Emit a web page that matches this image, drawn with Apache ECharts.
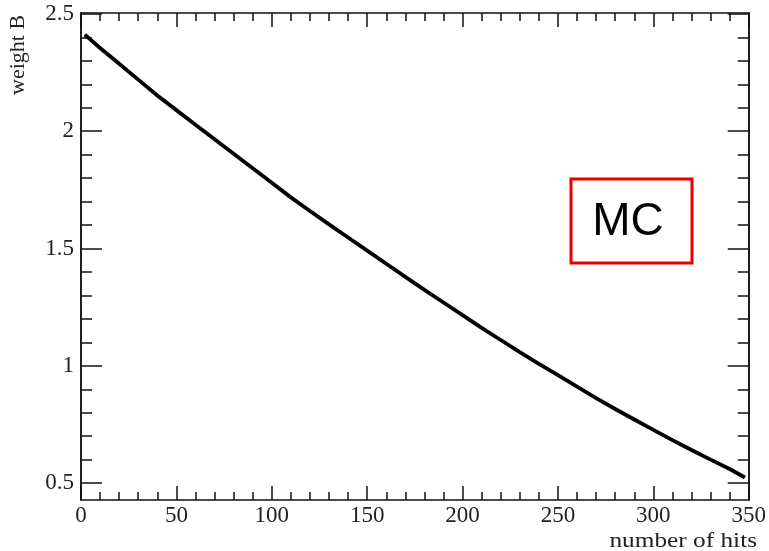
<!DOCTYPE html>
<html>
<head>
<meta charset="utf-8">
<script src="https://cdn.jsdelivr.net/npm/echarts@6/dist/echarts.min.js"></script>
<style>
  html, body { margin: 0; padding: 0; background: #fff; }
  #myChart { width: 769px; height: 551px; }
</style>
</head>
<body>
<div id="myChart"></div>
<script>
// number of hits (x) and weight B (y)
var hits = [2, 10, 20, 30, 40, 50, 60, 70, 80, 90, 100, 110, 120, 130, 140, 150, 160, 170, 180, 190,
  200, 210, 220, 230, 240, 250, 260, 270, 280, 290, 300, 310, 320, 330, 340, 348];
var weightB = [2.412, 2.355, 2.288, 2.220, 2.152, 2.090, 2.028, 1.966, 1.904, 1.842, 1.780, 1.718,
  1.660, 1.603, 1.547, 1.491, 1.435, 1.379, 1.324, 1.270, 1.216, 1.162, 1.110, 1.058, 1.008, 0.960,
  0.911, 0.862, 0.816, 0.771, 0.727, 0.683, 0.641, 0.600, 0.560, 0.524];
// tick labels
var yMajor = [0.5, 1, 1.5, 2, 2.5];
var yMinor = [0.6, 0.7, 0.8, 0.9, 1.1, 1.2, 1.3, 1.4, 1.6, 1.7, 1.8, 1.9, 2.1, 2.2, 2.3, 2.4];

var points = hits.map(function (h, i) { return [h, weightB[i]]; });

var serif = 'Liberation Serif';
var lineCol = '#111';

function xAx(pos, showLabel) {
  return {
    type: 'value', position: pos, min: 0, max: 350, interval: 50,
    axisLine: { show: true, onZero: false, lineStyle: { color: lineCol, width: 1.5 } },
    axisTick: { show: true, inside: true, length: 14, lineStyle: { color: lineCol, width: 1.5 } },
    minorTick: { show: true, splitNumber: 5, length: 8, lineStyle: { color: lineCol, width: 1.5 } },
    axisLabel: { show: showLabel, margin: 4, color: '#222', fontFamily: serif, fontSize: 23 },
    splitLine: { show: false }
  };
}

function yAx(pos, values, len, showLabel) {
  return {
    type: 'value', position: pos, min: 0.428, max: 2.504,
    axisLine: { show: true, onZero: false, lineStyle: { color: lineCol, width: 1.5 } },
    axisTick: { show: true, inside: true, length: len, customValues: values, lineStyle: { color: lineCol, width: 1.5 } },
    axisLabel: {
      show: showLabel, customValues: values, margin: 7, color: '#222', fontFamily: serif, fontSize: 23,
      formatter: function (v) { return String(v); }
    },
    splitLine: { show: false }
  };
}

var myChart = echarts.init(document.getElementById('myChart'));
myChart.setOption({
  animation: false,
  backgroundColor: '#fff',
  grid: { left: 81, right: 18, top: 13, bottom: 51 },
  xAxis: [xAx('bottom', true), xAx('top', false)],
  yAxis: [
    yAx('left', yMajor, 21, true),
    yAx('left', yMinor, 11, false),
    yAx('right', yMajor, 21, false),
    yAx('right', yMinor, 11, false)
  ],
  series: [{
    type: 'line',
    data: points,
    xAxisIndex: 0,
    yAxisIndex: 0,
    showSymbol: false,
    lineStyle: { color: '#000', width: 3.8 }
  }],
  graphic: [
    {
      type: 'text', x: 757, y: 541, scaleX: 1.15,
      style: {
        text: 'number of hits', fontSize: 22, fontFamily: serif, fill: '#222',
        align: 'right', verticalAlign: 'middle'
      }
    },
    {
      type: 'text', x: 7, y: 95, rotation: Math.PI / 2,
      style: {
        text: 'weight B', fontSize: 22, fontFamily: serif, fill: '#222',
        align: 'left', verticalAlign: 'top'
      }
    },
    {
      type: 'rect', shape: { x: 571, y: 179, width: 121, height: 84 },
      style: { fill: 'none', stroke: '#e80000', lineWidth: 3 }
    },
    {
      type: 'text', x: 628, y: 222,
      style: { text: 'MC', font: '46px "Liberation Sans", "Open Sans", sans-serif', fill: '#000', align: 'center', verticalAlign: 'middle' }
    }
  ]
});
</script>
</body>
</html>
